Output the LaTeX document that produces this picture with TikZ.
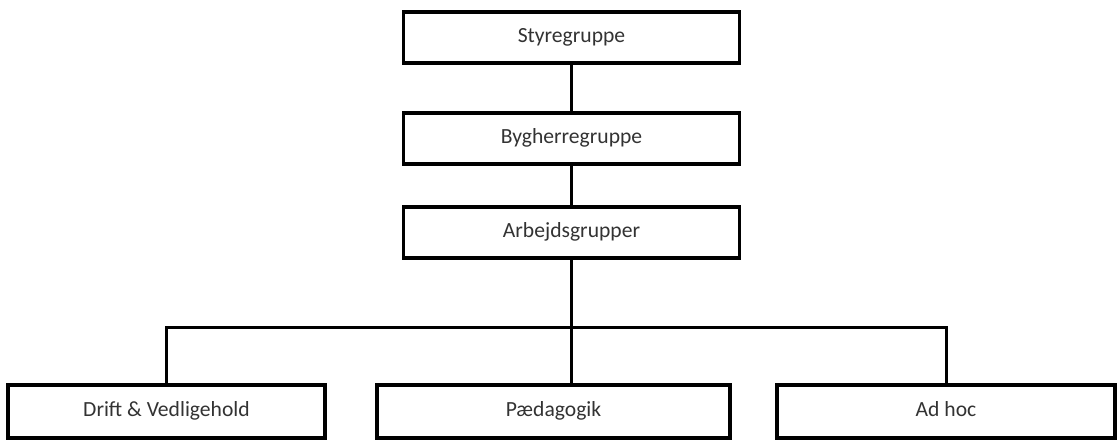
\documentclass[tikz,border=0pt]{standalone}
\usepackage{fontspec}
\setmainfont{Carlito}
\usetikzlibrary{positioning, calc}

\tikzset{
  orgbox/.style={draw=black, line width=1.8pt, fill=white, inner sep=0pt,
    minimum height=25.5pt, text height=1.6ex, text depth=0.45ex,
    font=\fontsize{10.8}{13}\selectfont, text=black!80},
  orgline/.style={draw=black, line width=1.5pt}
}

\begin{document}
\begin{tikzpicture}[x=0.5pt,y=0.5pt]
  \path[use as bounding box] (0,0) rectangle (1120,441);

  % top of the chain
  \node[orgbox, minimum width=168pt] (sty) at (571.5,403.5) {Styregruppe};
  \node[orgbox, minimum width=168pt] (byg) at (571.5,302.5) {Bygherregruppe};
  \node[orgbox, minimum width=168pt] (arb) at (571.5,208.5) {Arbejdsgrupper};

  % working groups
  \node[orgbox, minimum width=158.5pt, minimum height=26.5pt] (drift) at (166.5,29.5) {Drift \& Vedligehold};
  \node[orgbox, minimum width=176.5pt, minimum height=26.5pt] (paed) at (553.5,29.5) {Pædagogik};
  \node[orgbox, minimum width=169pt, minimum height=26.5pt] (adhoc) at (946,29.5) {Ad hoc};

  \coordinate (bus) at (571.5,114);

  % connectors
  \draw[orgline] (sty) -- (byg);
  \draw[orgline] (byg) -- (arb);
  \draw[orgline] (arb.south) -- (arb.south |- paed.north);
  \draw[orgline] (drift.north) |- (bus) -| (adhoc.north);
\end{tikzpicture}
\end{document}
